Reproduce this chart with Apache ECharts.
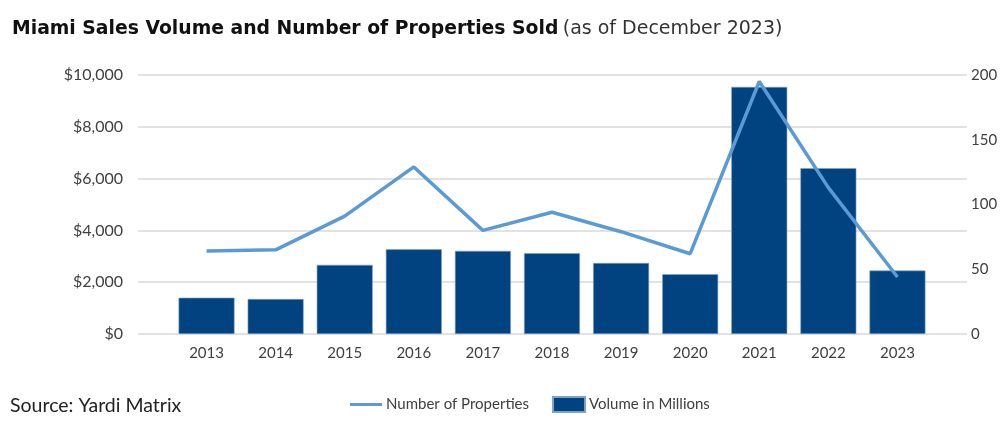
<!DOCTYPE html>
<html>
<head>
<meta charset="utf-8">
<script src="https://cdn.jsdelivr.net/npm/echarts@6/dist/echarts.min.js"></script>
<style>
  html, body { margin: 0; padding: 0; background: #fff; }
  #main { width: 1007px; height: 433px; }
</style>
</head>
<body>
<div id="main"></div>
<script>
var years = ['2013', '2014', '2015', '2016', '2017', '2018', '2019', '2020', '2021', '2022', '2023'];
var volume = [1400, 1350, 2670, 3270, 3210, 3120, 2740, 2310, 9540, 6400, 2450];
var properties = [64, 65, 91, 129, 80, 94, 79, 62, 195, 113, 44];

var myChart = echarts.init(document.getElementById('main'));
var textColor = '#404040';
var font = 'Lato';

var option = {
    animation: false,
    textStyle: { fontFamily: font },
    title: {
        left: 7,
        top: 15,
        text: '{a|Miami Sales Volume and Number of Properties Sold} {b|(as of December 2023)}',
        textStyle: {
            rich: {
                a: { fontFamily: 'DejaVu Sans', fontWeight: 'bold', fontSize: 18.8, color: '#111' },
                b: { fontFamily: 'DejaVu Sans', fontWeight: 'normal', fontSize: 19, color: '#333' }
            }
        }
    },
    graphic: [{
        type: 'text',
        left: 10,
        top: 396,
        style: { text: 'Source: Yardi Matrix', font: '19.5px Lato', fill: '#222' }
    }],
    legend: {
        top: 391,
        left: 345,
        itemGap: 23,
        itemWidth: 32,
        itemHeight: 15,
        textStyle: { color: textColor, fontSize: 15, padding: [0, 0, 0, -1] },
        data: [
            { name: 'Number of Properties', icon: 'path://M0,6h32v3h-32z' },
            { name: 'Volume in Millions', icon: 'rect' }
        ]
    },
    grid: [
        { left: 138, right: 40, top: 75, bottom: 99 },
        { left: 172, right: 75, top: 75, bottom: 99 }
    ],
    xAxis: [
        { type: 'category', gridIndex: 0, data: years, show: false },
        {
            type: 'category', gridIndex: 1, data: years,
            axisLine: { show: false },
            axisTick: { show: false },
            axisLabel: { color: textColor, fontSize: 15, margin: 12 }
        }
    ],
    yAxis: [
        {
            type: 'value', gridIndex: 0, min: 0, max: 10000, interval: 2000,
            axisLabel: {
                color: textColor, fontSize: 16, margin: 15,
                formatter: function (v) { return '$' + v.toLocaleString('en-US'); }
            },
            splitLine: { lineStyle: { color: '#d9d9d9', width: 1.5 } }
        },
        {
            type: 'value', gridIndex: 0, min: 0, max: 200, interval: 50, position: 'right',
            axisLabel: { color: textColor, fontSize: 15, margin: 4 },
            splitLine: { show: false }
        },
        { type: 'value', gridIndex: 1, min: 0, max: 10000, show: false, splitLine: { show: false } },
        { type: 'value', gridIndex: 1, min: 0, max: 200, show: false, splitLine: { show: false } }
    ],
    series: [
        {
            name: 'Volume in Millions',
            type: 'bar',
            xAxisIndex: 1,
            yAxisIndex: 2,
            barWidth: '81%',
            data: volume,
            itemStyle: { color: '#004380', borderColor: '#7fa3c4', borderWidth: 0.6 },
            z: 2
        },
        {
            name: 'Number of Properties',
            type: 'line',
            xAxisIndex: 1,
            yAxisIndex: 3,
            data: properties,
            symbol: 'none',
            lineStyle: { color: '#5B9BD5', width: 3.5 },
            itemStyle: { color: '#5B9BD5' },
            z: 3
        }
    ]
};
myChart.setOption(option);
</script>
</body>
</html>
